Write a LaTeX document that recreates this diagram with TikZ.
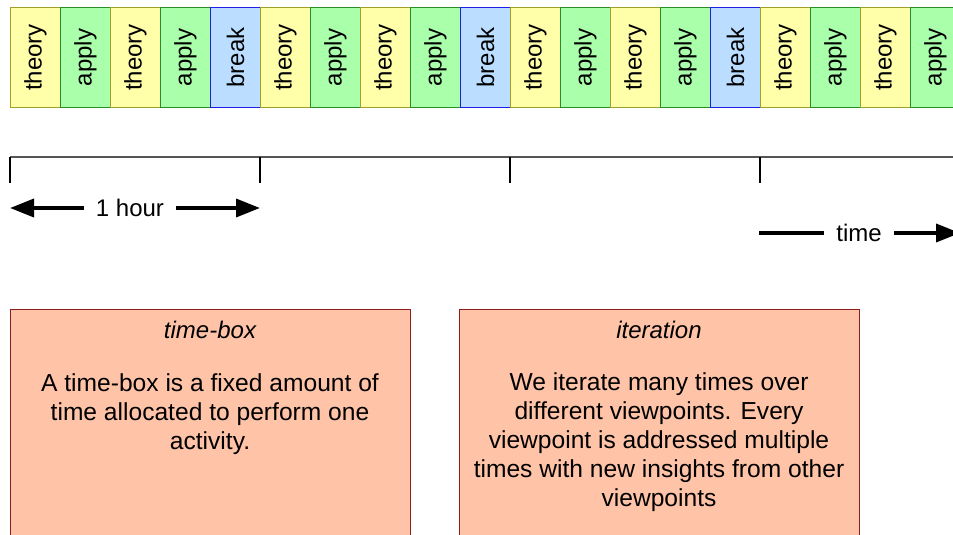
\documentclass[tikz,border=0pt]{standalone}
\usepackage{fontspec}
\setmainfont{Liberation Sans}
\usetikzlibrary{arrows.meta}
\definecolor{theoryfill}{RGB}{255,255,170}
\definecolor{theoryline}{RGB}{160,160,40}
\definecolor{applyfill}{RGB}{170,255,170}
\definecolor{applyline}{RGB}{40,140,40}
\definecolor{breakfill}{RGB}{187,221,255}
\definecolor{breakline}{RGB}{30,30,230}
\definecolor{notefill}{RGB}{255,196,168}
\definecolor{noteline}{RGB}{140,30,30}
\definecolor{axisgray}{RGB}{85,85,85}
\begin{document}
\begin{tikzpicture}[x=1pt,y=-1pt,
  txt/.style={font=\fontsize{24}{29}\selectfont},
  bodytxt/.style={font=\fontsize{24.6}{29}\selectfont},
  slot/.style={txt, line width=1pt, minimum width=50pt, minimum height=100pt, inner sep=0pt, anchor=north west},
  theory/.style={slot, fill=theoryfill, draw=theoryline},
  apply/.style={slot, fill=applyfill, draw=applyline},
  break/.style={slot, fill=breakfill, draw=breakline},
  note/.style={fill=notefill, draw=noteline, line width=1pt, minimum width=400pt, minimum height=240pt, anchor=north west, inner sep=0pt},
  shaft/.style={line width=3.5pt},
  bigarrow/.style={shaft, -{Triangle[length=24pt,width=18pt]}},
  axis/.style={draw=axisgray, line width=2pt},
  tick/.style={draw=black, line width=1.3pt}
]
\path[use as bounding box, clip] (0,0) rectangle (953,535);

% activity slots
\foreach \i/\k in {0/theory,1/apply,2/theory,3/apply,4/break,
                   5/theory,6/apply,7/theory,8/apply,9/break,
                   10/theory,11/apply,12/theory,13/apply,14/break,
                   15/theory,16/apply,17/theory,18/apply}{
  \node[\k] (s\i) at ({10+50*\i},7) {\rotatebox{90}{\k}};
}

% time axis
\coordinate (a0) at (10,157);
\coordinate (a1) at (260,157);
\coordinate (a2) at (510,157);
\coordinate (a3) at (760,157);
\coordinate (aend) at (960,157);
\draw[axis] (a0) -- (aend);
\foreach \j in {0,1,2,3}{
  \draw[tick] (a\j) -- ++(0,26);
}

% 1 hour
\node[txt, inner sep=0pt, inner xsep=12pt] (hour) at (130,208) {1 hour};
\coordinate (hl) at (10,208);
\coordinate (hr) at (260,208);
\draw[bigarrow] (hour.west) -- (hl);
\draw[bigarrow] (hour.east) -- (hr);

% time
\node[txt, inner sep=0pt, inner xsep=12pt] (time) at (859,233) {time};
\coordinate (tl) at (759,233);
\coordinate (tr) at (960,233);
\draw[shaft] (tl) -- (time.west);
\draw[bigarrow] (time.east) -- (tr);

% notes
\node[note] (tb) at (10,309) {};
\node[txt, font=\fontsize{24}{29}\selectfont\itshape, anchor=base] (tbt) at (210,338) {time-box};
\node[bodytxt, align=center, anchor=north, inner sep=0pt] (tbb) at (210,373)
  {A time-box is a fixed amount of\\time allocated to perform one\\activity.};

\node[note] (it) at (459,309) {};
\node[txt, font=\fontsize{24}{29}\selectfont\itshape, anchor=base] (itt) at (659,338) {iteration};
\node[bodytxt, align=center, anchor=north, inner sep=0pt] (itb) at (659,372.5)
  {We iterate many times over\\different viewpoints. Every\\viewpoint is addressed multiple\\times with new insights from other\\viewpoints};
\end{tikzpicture}
\end{document}
